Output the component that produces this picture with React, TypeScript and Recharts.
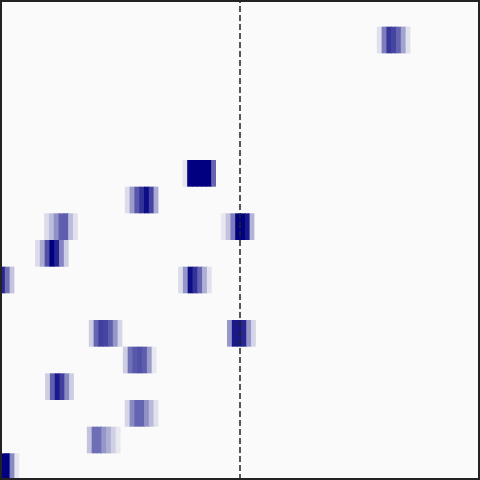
import { ScatterChart, XAxis, YAxis, ReferenceArea, ReferenceLine } from 'recharts'

// 18 rows counted from the top, x runs 0..100 with the dashed line at the centre
const ROWS = 18
const X_MAX = 100
const CENTER = 50

// each block: row, first cell left edge (x units), cell intensities 0..1
const blockRows = [1, 6, 7, 8, 8, 9, 10, 10, 12, 12, 13, 14, 15, 16, 17]
const blockStarts = [78.5, 38, 26, 9.2, 46, 7.3, 0, 37.1, 18.5, 47.3, 25.6, 9.4, 26, 18.1, 0]
const blockValues = [
  [0.1, 0.5, 0.78, 0.72, 0.6, 0.35, 0.1],
  [0.08, 1, 1, 1, 1, 1, 0.6],
  [0.12, 0.38, 0.65, 0.8, 0.95, 0.72, 0.32],
  [0.12, 0.25, 0.42, 0.62, 0.62, 0.25, 0.1],
  [0.07, 0.22, 0.5, 1, 1, 0.9, 0.28],
  [0.12, 0.32, 0.68, 1, 0.85, 0.47, 0.18],
  [0.85, 0.55, 0.22],
  [0.12, 0.4, 0.95, 0.8, 0.6, 0.3, 0.1],
  [0.18, 0.6, 0.75, 0.72, 0.62, 0.4, 0.15],
  [0.4, 0.9, 0.9, 0.85, 0.4, 0.15],
  [0.18, 0.55, 0.65, 0.68, 0.63, 0.38, 0.07],
  [0.18, 0.62, 0.9, 0.75, 0.45, 0.18],
  [0.15, 0.45, 0.6, 0.6, 0.42, 0.26, 0.1],
  [0.22, 0.56, 0.56, 0.4, 0.3, 0.17, 0.07],
  [1, 1, 0.45, 0.08],
]

// background -> navy
const colorFor = (v: number) => {
  const rg = Math.round(250 * (1 - v))
  const b = Math.round(250 * (1 - v) + 128 * v)
  return `rgb(${rg},${rg},${b})`
}

export default function App() {
  const cells = blockRows.flatMap((row, b) =>
    blockValues[b].map((v, i) => ({
      row,
      x1: blockStarts[b] + i,
      // small overlap so neighbouring cells leave no seam
      x2: blockStarts[b] + i + (i < blockValues[b].length - 1 ? 1.15 : 1),
      v,
    }))
  )

  return (
    <div style={{ position: 'fixed', left: 0, top: 0, width: 480, height: 480, background: '#fafafa' }}>
      <ScatterChart width={480} height={480} margin={{ top: 0, right: 0, bottom: 0, left: 0 }}>
        <XAxis type="number" dataKey="x" domain={[0, X_MAX]} hide allowDataOverflow />
        <YAxis type="number" dataKey="y" domain={[0, ROWS]} hide reversed allowDataOverflow />
        {cells.map((c, i) => (
          <ReferenceArea
            key={i}
            x1={c.x1}
            x2={c.x2}
            y1={c.row}
            y2={c.row + 1}
            fill={colorFor(c.v)}
            fillOpacity={1}
            stroke="none"
            ifOverflow="hidden"
          />
        ))}
        <ReferenceLine x={CENTER} stroke="#222" strokeWidth={1.5} strokeDasharray="6 3" />
      </ScatterChart>
      <div
        style={{
          position: 'absolute',
          inset: 0,
          boxSizing: 'border-box',
          border: '2px solid #222',
          pointerEvents: 'none',
        }}
      />
    </div>
  )
}
